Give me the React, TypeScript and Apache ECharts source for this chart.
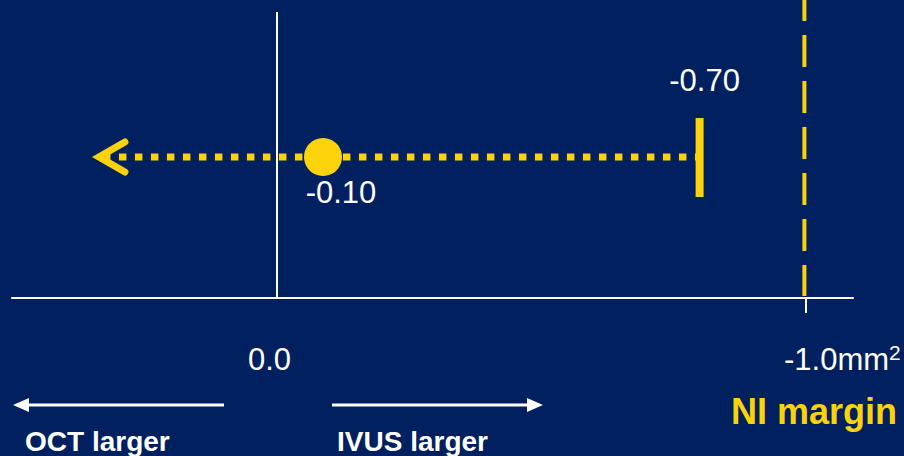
import React, { useEffect, useRef } from "react";
import * as echarts from "echarts";

// ---- data ----
const axisTickValues = [0, -1];
const axisTickLabels = ["0.0", "-1.0mm"];
const niMargin = -1.0;
// plotted positions (as drawn in the reference) and printed labels
const pointEstimate = [-0.088, 49.3];
const pointLabel = "-0.10";
const ciOpenEnd = 0.347; // open-ended arrow at left
const ciLowerBound = -0.8;
const ciLowerLabel = "-0.70";
const ciRowY = 49.3;
const directionLabels = ["OCT larger", "IVUS larger"];
const marginLabel = "NI margin";

const BG = "#00205F";
const YEL = "#FCD20B";
const FONT = "'Liberation Sans', Arial, sans-serif";

export default function App() {
  const ref = useRef<HTMLDivElement>(null);
  useEffect(() => {
    if (!ref.current) return;
    const chart = echarts.init(ref.current, undefined, { renderer: "svg" });
    chart.setOption({
      animation: false,
      backgroundColor: BG,
      grid: { left: 12, right: 51, top: 12, bottom: 158 },
      xAxis: {
        type: "value",
        min: -1.09,
        max: 0.5,
        inverse: true,
        axisLine: { show: true, onZero: false, lineStyle: { color: "#fff", width: 2 } },
        axisTick: { show: true, customValues: [niMargin], length: 15, lineStyle: { color: "#fff", width: 2 } },
        splitLine: { show: false },
        axisLabel: {
          show: true,
          customValues: axisTickValues,
          margin: 44,
          formatter: (v: number) => {
            const i = axisTickValues.indexOf(v);
            if (i === 0) return "{a|" + axisTickLabels[0] + "}";
            return "{b|" + axisTickLabels[1] + "}{s|2}";
          },
          rich: {
            a: { fontSize: 31, color: "#fff", fontFamily: FONT, padding: [0, 14, 0, 0], lineHeight: 34 },
            b: { fontSize: 31, color: "#fff", fontFamily: FONT, padding: [0, 0, 0, 74], lineHeight: 34 },
            s: { fontSize: 21, color: "#fff", fontFamily: FONT, verticalAlign: "top", lineHeight: 21, padding: [0, 0, 10, 0] },
          },
        },
      },
      yAxis: { type: "value", min: 0, max: 100, show: false },
      series: [
        {
          type: "custom",
          name: "margin",
          clip: false,
          data: [[niMargin, 0]],
          renderItem: (params: any, api: any) => {
            const p = api.coord([api.value(0), api.value(1)]);
            const top = params.coordSys.y - 12;
            return {
              type: "line",
              shape: { x1: p[0] - 1, y1: top, x2: p[0] - 1, y2: p[1] - 2 },
              style: { stroke: YEL, lineWidth: 4, lineDash: [32, 14], lineDashOffset: 11 },
            };
          },
          markLine: {
            silent: true,
            symbol: "none",
            label: { show: false },
            lineStyle: { color: "#fff", width: 2, type: "solid" },
            data: [{ xAxis: 0 }],
          },
        },
        {
          type: "custom",
          name: "ci",
          clip: false,
          data: [[ciOpenEnd, ciLowerBound, ciRowY]],
          renderItem: (params: any, api: any) => {
            const l = api.coord([api.value(0), api.value(2)]);
            const r = api.coord([api.value(1), api.value(2)]);
            return {
              type: "group",
              children: [
                {
                  type: "line",
                  shape: { x1: l[0] + 10, y1: l[1], x2: r[0] - 2, y2: r[1] },
                  style: { stroke: YEL, lineWidth: 7, lineDash: [7.5, 8.5] },
                },
                {
                  type: "polyline",
                  shape: { points: [[l[0] + 32, l[1] - 15], [l[0] + 6, l[1]], [l[0] + 32, l[1] + 15]] },
                  style: { stroke: YEL, lineWidth: 7, lineCap: "round", lineJoin: "miter", fill: null },
                },
                {
                  type: "rect",
                  shape: { x: r[0] - 4, y: r[1] - 39, width: 8, height: 79 },
                  style: { fill: YEL },
                },
                {
                  type: "text",
                  x: r[0] + 5,
                  y: r[1] - 77,
                  style: {
                    text: ciLowerLabel,
                    fill: "#fff",
                    font: "31px " + FONT,
                    align: "center",
                    verticalAlign: "middle",
                  },
                },
              ],
            };
          },
        },
        {
          type: "scatter",
          name: "estimate",
          symbol: "circle",
          symbolSize: 38,
          itemStyle: { color: YEL, opacity: 1 },
          data: [pointEstimate],
          label: {
            show: true,
            position: "bottom",
            distance: 1,
            offset: [18, 0],
            formatter: () => pointLabel,
            color: "#fff",
            fontSize: 31,
            fontFamily: FONT,
          },
          z: 5,
        },
      ],
      graphic: [
        { type: "line", shape: { x1: 26, y1: 405, x2: 224, y2: 405 }, style: { stroke: "#fff", lineWidth: 3 } },
        { type: "polygon", shape: { points: [[13, 405], [29, 398], [29, 412]] }, style: { fill: "#fff" } },
        { type: "line", shape: { x1: 332, y1: 405, x2: 530, y2: 405 }, style: { stroke: "#fff", lineWidth: 3 } },
        { type: "polygon", shape: { points: [[543, 405], [527, 398], [527, 412]] }, style: { fill: "#fff" } },
        {
          type: "text",
          x: 25,
          y: 441,
          style: { text: directionLabels[0], fill: "#fff", font: "bold 28px " + FONT, verticalAlign: "middle" },
        },
        {
          type: "text",
          x: 337,
          y: 441,
          style: { text: directionLabels[1], fill: "#fff", font: "bold 28px " + FONT, verticalAlign: "middle" },
        },
        {
          type: "text",
          x: 897,
          y: 411,
          style: { text: marginLabel, fill: YEL, font: "bold 36px " + FONT, align: "right", verticalAlign: "middle" },
        },
      ],
    });
    return () => chart.dispose();
  }, []);
  return (
    <div
      ref={ref}
      style={{ position: "fixed", left: 0, top: 0, width: 904, height: 456 }}
    />
  );
}
